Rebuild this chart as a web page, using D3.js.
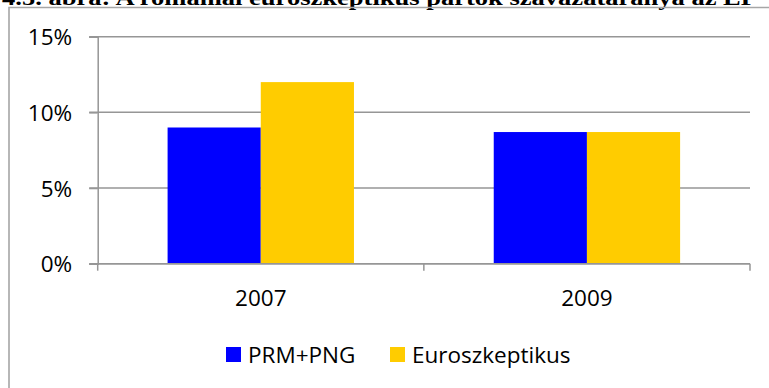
<!DOCTYPE html>
<html>
<head>
<meta charset="utf-8">
<script src="https://cdn.jsdelivr.net/npm/d3@7"></script>
<style>
  html, body { margin: 0; padding: 0; background: #fff; overflow: hidden; }
  svg { display: block; }
</style>
</head>
<body>
<script>
// Election years and party-group vote shares
const categories = ["2007", "2009"];
const seriesNames = ["PRM+PNG", "Euroszkeptikus"];
const prmPng = [0.090, 0.087];
const euroszkeptikus = [0.120, 0.087];
const yTicks = [0, 0.05, 0.10, 0.15];
const titleText = "4.5. ábra: A romániai euroszkeptikus pártok szavazataránya az EP";

const colors = { "PRM+PNG": "#0000ff", "Euroszkeptikus": "#ffcc00" };
const seriesValues = { "PRM+PNG": prmPng, "Euroszkeptikus": euroszkeptikus };

const W = 769, H = 388;
const plot = { left: 97.7, right: 750, top: 36.7, bottom: 263.7 };
const gridColor = "#969696";
const font = "'Open Sans', 'Noto Sans', sans-serif";

const svg = d3.select("body").append("svg")
  .attr("width", W).attr("height", H);

// Caption line above the chart frame (partly cut off at the top edge)
svg.append("text")
  .attr("x", 2).attr("y", 5)
  .attr("font-family", "'Liberation Serif', 'Times New Roman', serif")
  .attr("font-weight", "bold")
  .attr("font-size", 22)
  .attr("textLength", 755)
  .attr("lengthAdjust", "spacingAndGlyphs")
  .attr("fill", "#000")
  .text(titleText);

// Chart frame
svg.append("path")
  .attr("d", `M9,${H + 2} V7.5 H${W + 2}`)
  .attr("fill", "none")
  .attr("stroke", "#a6a6a6")
  .attr("stroke-width", 1.6);

const x0 = d3.scaleBand()
  .domain(categories)
  .range([plot.left, plot.right])
  .padding(0);

// Gap between groups is 150% of one bar width
const barW = x0.bandwidth() / (seriesNames.length + 1.5);
const x1 = d3.scaleBand()
  .domain(seriesNames)
  .range([0, barW * seriesNames.length])
  .padding(0);
const groupOffset = (x0.bandwidth() - barW * seriesNames.length) / 2;

const y = d3.scaleLinear()
  .domain([0, 0.15])
  .range([plot.bottom, plot.top]);

// Horizontal gridlines
svg.append("g")
  .selectAll("line")
  .data(yTicks)
  .join("line")
  .attr("x1", plot.left - 8.5)
  .attr("x2", plot.right)
  .attr("y1", d => y(d))
  .attr("y2", d => y(d))
  .attr("stroke", gridColor)
  .attr("stroke-width", 1.5);

// Y axis
const yAxis = svg.append("g")
  .attr("transform", `translate(${plot.left},0)`)
  .call(d3.axisLeft(y).tickValues(yTicks).tickFormat(d3.format(".0%")).tickSize(8.5).tickPadding(17));
yAxis.select(".domain").attr("stroke", gridColor).attr("stroke-width", 1.5);
yAxis.selectAll(".tick line").attr("stroke", gridColor).attr("stroke-width", 1.5);
yAxis.selectAll(".tick text")
  .attr("font-family", font).attr("font-size", 22.5).attr("fill", "#000")
  .attr("dy", "0.36em");

// Bars
const groups = svg.append("g")
  .selectAll("g")
  .data(categories)
  .join("g")
  .attr("transform", c => `translate(${x0(c) + groupOffset},0)`);

groups.selectAll("rect")
  .data((c, i) => seriesNames.map(s => ({ s, v: seriesValues[s][i] })))
  .join("rect")
  .attr("x", d => x1(d.s))
  .attr("width", x1.bandwidth())
  .attr("y", d => y(d.v))
  .attr("height", d => y(0) - y(d.v))
  .attr("fill", d => colors[d.s]);

// X axis with category boundary ticks
const xAxis = svg.append("g")
  .attr("transform", `translate(0,${plot.bottom})`);
xAxis.append("line")
  .attr("x1", plot.left).attr("x2", plot.right)
  .attr("stroke", gridColor).attr("stroke-width", 1.5);
const bounds = categories.map(c => x0(c)).concat([plot.right]);
xAxis.selectAll("line.b")
  .data(bounds)
  .join("line")
  .attr("class", "b")
  .attr("x1", d => d).attr("x2", d => d)
  .attr("y1", 0).attr("y2", 7)
  .attr("stroke", gridColor).attr("stroke-width", 1.5);
xAxis.selectAll("text")
  .data(categories)
  .join("text")
  .attr("x", c => x0(c) + x0.bandwidth() / 2)
  .attr("y", 42.5)
  .attr("text-anchor", "middle")
  .attr("font-family", font).attr("font-size", 22.5).attr("fill", "#000")
  .text(c => c);

// Legend
const legendX = [226, 390];
const legend = svg.append("g")
  .selectAll("g")
  .data(seriesNames)
  .join("g")
  .attr("transform", (s, i) => `translate(${legendX[i]},347)`);
legend.append("rect")
  .attr("width", 15).attr("height", 15)
  .attr("fill", s => colors[s]);
legend.append("text")
  .attr("x", 22).attr("y", 15.5)
  .attr("font-family", font).attr("font-size", 22.5).attr("fill", "#000")
  .text(s => s);
</script>
</body>
</html>
